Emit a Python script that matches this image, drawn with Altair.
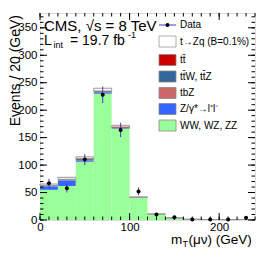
import altair as alt
import pandas as pd

# ---- data ----
bin_lo = [0, 20, 40, 60, 80, 100, 120, 140, 160, 180, 200, 220]
bin_hi = [20, 40, 60, 80, 100, 120, 140, 160, 180, 200, 220, 240]
ww_wz_zz = [55, 62, 106, 230, 166, 40, 10, 3.5, 1.2, 0.8, 0.6, 0.8]
zgamma = [6, 10, 2, 1.5, 0.5, 0.3, 0.2, 0.1, 0, 0, 0, 0]
tbz = [0.3, 0.3, 0.5, 0.5, 0.3, 0.1, 0.1, 0, 0, 0, 0, 0]
ttv = [1.2, 1.5, 2, 2.5, 1.2, 0.6, 0.3, 0.2, 0.1, 0.1, 0.1, 0.1]
ttbar = [0.5, 0.5, 1.5, 0.5, 1.5, 0.3, 0.1, 0, 0, 0, 0, 0]
signal = [2.5, 3.5, 3, 5, 3, 0.8, 0.4, 0.2, 0.1, 0.1, 0.1, 0.1]
data_x = [10, 30, 50, 70, 90, 110, 130, 150, 170, 190, 210, 230]
data_y = [67, 58, 110, 228, 164, 52, 10, 5, 1, 1, 1, 4]
data_err = [8, 8, 10, 15, 13, 7, 3, 2, 1, 1, 1, 2]

procs = ["WW, WZ, ZZ", "Z/γ*→l⁺l⁻", "tbZ", "tt̄W, tt̄Z", "tt̄", "t→Zq (B=0.1%)"]
colors = ["#99ff99", "#3366ff", "#cc6666", "#336699", "#cc0000", "#ffffff"]
series = [ww_wz_zz, zgamma, tbz, ttv, ttbar, signal]

y_ticks_major = [0, 50, 100, 150, 200, 250, 300, 350]
y_ticks_minor = list(range(0, 371, 10))
x_ticks_major = [0, 100, 200]
x_ticks_minor = list(range(0, 241, 10))

W, H = 215, 207
YMAX = 377
FONT = "Liberation Sans"

rows = []
for i in range(len(bin_lo)):
    base = 0.0
    for p, s in zip(procs, series):
        rows.append({"lo": bin_lo[i], "hi": bin_hi[i], "y0": base, "y1": base + s[i], "proc": p})
        base += s[i]
stack = pd.DataFrame(rows)

xs = alt.Scale(domain=[0, 240], nice=False, zero=False)
ys = alt.Scale(domain=[0, YMAX], nice=False, zero=False)
cscale = alt.Scale(domain=procs, range=colors)

XAX = alt.Axis(values=x_ticks_major, ticks=False, domain=False, grid=False, title=None,
               labelFont=FONT, labelFontSize=11.5, labelColor="black",
               labelPadding=1, labelFlush=False, labelOverlap=False)
YAX = alt.Axis(values=y_ticks_major, ticks=False, domain=False, grid=False, title=None,
               labelFont=FONT, labelFontSize=11.5, labelColor="black",
               labelPadding=3, labelOverlap=False, labelFlush=False)


def X(f):
    return alt.X(f, scale=xs, axis=XAX)


def Y(f):
    return alt.Y(f, scale=ys, axis=YAX)


bars = alt.Chart(stack).transform_filter(alt.datum.proc != procs[-1]).mark_rect().encode(
    x=X("lo:Q"), x2="hi:Q", y=Y("y0:Q"), y2="y1:Q",
    color=alt.Color("proc:N", scale=cscale, legend=None),
)
sig = alt.Chart(stack).transform_filter(alt.datum.proc == procs[-1]).mark_rect(
    fill="white", stroke="#999999", strokeWidth=1).encode(
    x=X("lo:Q"), x2="hi:Q", y=Y("y0:Q"), y2="y1:Q")

dd = pd.DataFrame({"x": data_x, "y": data_y, "e": data_err})
dd["lo"] = dd["y"] - dd["e"]
dd["hi"] = dd["y"] + dd["e"]
err = alt.Chart(dd).mark_rule(color="#3b3bd0", strokeWidth=1).encode(
    x=X("x:Q"), y=Y("lo:Q"), y2="hi:Q")
pts = alt.Chart(dd).mark_circle(color="black", opacity=1, size=16).encode(
    x=X("x:Q"), y=Y("y:Q"))


# ---- inward ticks on all four sides ----
def yticks(vals, length):
    d = pd.DataFrame({"v": vals})
    left = alt.Chart(d).mark_rule(color="black", strokeWidth=1).encode(
        y=Y("v:Q"), x=alt.value(0), x2=alt.value(length))
    right = alt.Chart(d).mark_rule(color="black", strokeWidth=1).encode(
        y=Y("v:Q"), x=alt.value(W), x2=alt.value(W - length))
    return [left, right]


def xticks(vals, length):
    d = pd.DataFrame({"v": vals})
    bottom = alt.Chart(d).mark_rule(color="black", strokeWidth=1).encode(
        x=X("v:Q"), y=alt.value(H), y2=alt.value(H - length))
    top = alt.Chart(d).mark_rule(color="black", strokeWidth=1).encode(
        x=X("v:Q"), y=alt.value(0), y2=alt.value(length))
    return [bottom, top]


ticks = yticks(y_ticks_minor, 3.5) + yticks(y_ticks_major, 7) + xticks(x_ticks_minor, 3.5) + xticks(x_ticks_major, 7)


def txt(s, x, y, size=14, align="left", baseline="middle", angle=0, color="black"):
    kw = dict(font=FONT, fontSize=size, align=align, baseline=baseline, color=color)
    if angle:
        kw["angle"] = angle
    return alt.Chart(pd.DataFrame({"t": [s]})).mark_text(**kw).encode(
        text="t:N", x=alt.value(x), y=alt.value(y))


texts = [
    txt("CMS, √s = 8 TeV", 4, 12.5, 15),
    txt("L", 4, 28, 14),
    txt("int", 13.5, 32, 9),
    txt("= 19.7 fb", 30, 28, 14),
    txt("-1", 88, 22, 9),
    txt("Events / 20 (GeV)", -20.5, 2, 14, align="right", baseline="alphabetic", angle=270),
    txt("m", 131, 226.5, 13.5),
    txt("T", 142.5, 230.5, 9),
    txt("(μν) (GeV)", 148.5, 226.5, 13.5),
]

# ---- legend ----
leg_rows_y = [28.5, 47, 63.5, 80, 96, 112.5]
legend_layers = []
for p, c, yy in zip(procs[::-1], colors[::-1], leg_rows_y):
    stroke = "#999999" if c == "#ffffff" else "#888888"
    legend_layers.append(
        alt.Chart(pd.DataFrame({"t": [p]})).mark_rect(fill=c, stroke=stroke, strokeWidth=0.8).encode(
            x=alt.value(119), x2=alt.value(136), y=alt.value(yy - 5.5), y2=alt.value(yy + 5.5)))
    legend_layers.append(txt(p, 140, yy, 10))
legend_layers.append(
    alt.Chart(pd.DataFrame({"t": ["Data"]})).mark_rule(color="#3b3bd0", strokeWidth=1).encode(
        x=alt.value(119), x2=alt.value(136), y=alt.value(12)))
legend_layers.append(
    alt.Chart(pd.DataFrame({"t": ["Data"]})).mark_circle(color="black", opacity=1, size=16).encode(
        x=alt.value(127.5), y=alt.value(12)))
legend_layers.append(txt("Data", 140, 12, 10))

chart = alt.layer(bars, sig, err, pts, *ticks, *texts, *legend_layers).properties(
    width=W, height=H,
    autosize=alt.AutoSizeParams(type="none"),
    padding={"left": 32, "top": 5, "right": 3, "bottom": 27},
).configure_view(stroke="black", strokeWidth=1).configure(background="white")

chart.save("out.html", embed_options={"renderer": "svg", "actions": False})
